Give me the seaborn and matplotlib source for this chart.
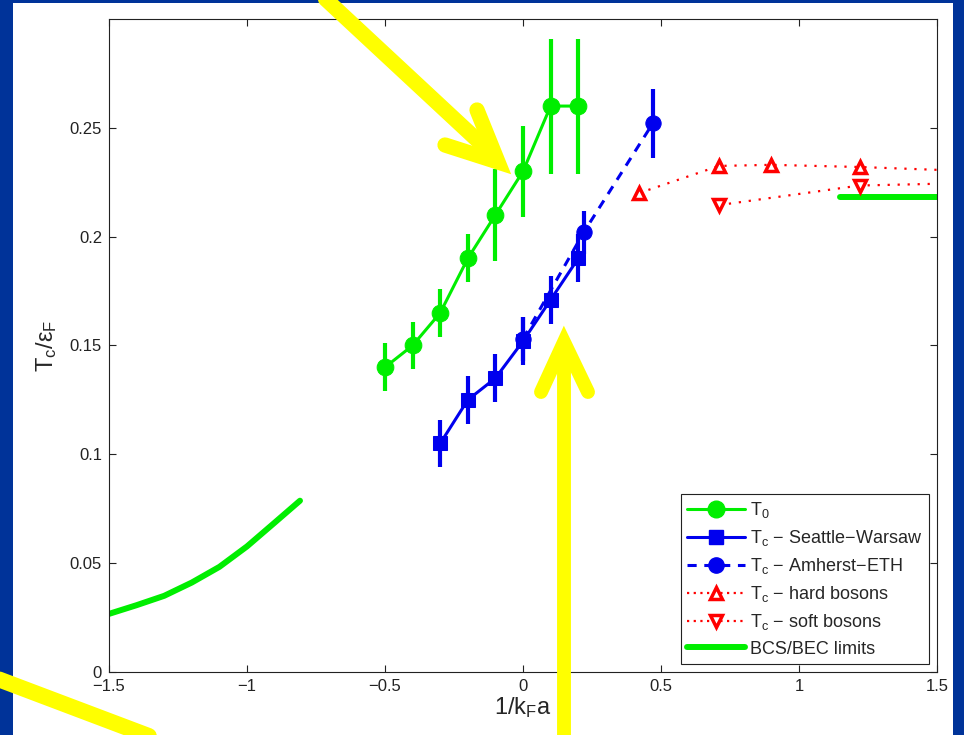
import pandas as pd
import seaborn as sns
import matplotlib.pyplot as plt
from matplotlib.lines import Line2D
from matplotlib.patches import Rectangle

# T0 (green circles)
t0_x = [-0.5, -0.4, -0.3, -0.2, -0.1, 0.0, 0.1, 0.2]
t0_y = [0.140, 0.150, 0.165, 0.190, 0.210, 0.230, 0.260, 0.260]
t0_err = [0.011, 0.011, 0.011, 0.011, 0.021, 0.021, 0.031, 0.031]

# Tc Seattle-Warsaw (blue squares)
sw_x = [-0.3, -0.2, -0.1, 0.0, 0.1, 0.2]
sw_y = [0.105, 0.125, 0.135, 0.152, 0.171, 0.190]
sw_err = [0.011, 0.011, 0.011, 0.011, 0.011, 0.011]

# Tc Amherst-ETH (blue circles, dashed)
am_x = [0.0, 0.22, 0.47]
am_y = [0.153, 0.202, 0.252]
am_err = [0.010, 0.010, 0.016]

# Tc hard / soft bosons (red triangles, dotted)
hb_x = [0.42, 0.71, 0.90, 1.22, 1.50]
hb_y = [0.220, 0.2325, 0.233, 0.232, 0.2307]
sb_x = [0.71, 1.22, 1.50]
sb_y = [0.2145, 0.2235, 0.2243]

# BCS / BEC limits (green thick)
bcs_x = [-1.5, -1.4, -1.3, -1.2, -1.1, -1.0, -0.9, -0.808]
bcs_y = [0.0267, 0.0307, 0.0350, 0.0411, 0.0483, 0.0577, 0.0686, 0.0787]
bec_x = [1.15, 1.5]
bec_y = [0.218, 0.218]

labels = [r'$\mathregular{T_0}$',
          r'$\mathregular{T_c}$ − Seattle−Warsaw',
          r'$\mathregular{T_c}$ − Amherst−ETH',
          r'$\mathregular{T_c}$ − hard bosons',
          r'$\mathregular{T_c}$ − soft bosons',
          'BCS/BEC limits']

sns.set_style('ticks')
plt.rcParams['font.family'] = ['Liberation Sans', 'DejaVu Sans']
plt.rcParams['mathtext.fontset'] = 'custom'
plt.rcParams['mathtext.rm'] = 'Liberation Sans'
plt.rcParams['mathtext.it'] = 'Liberation Sans'
plt.rcParams['mathtext.default'] = 'regular'
plt.rcParams['xtick.direction'] = 'in'
plt.rcParams['ytick.direction'] = 'in'

GREEN = '#00ee00'
BLUE = '#0000ee'
RED = '#ff0000'
YELLOW = '#ffff00'
W, H = 964, 735

fig = plt.figure(figsize=(9.64, 7.35), dpi=100)
fig.patch.set_facecolor('#003399')
fig.add_artist(Rectangle((13 / W, 0), 940 / W, 732 / H, transform=fig.transFigure,
                         facecolor='white', edgecolor='none', zorder=-5))
ax = fig.add_axes([109 / W, 63 / H, 828 / W, 653 / H])

# lines
sns.lineplot(x=bcs_x, y=bcs_y, color=GREEN, linewidth=4.3, ax=ax, sort=False)
sns.lineplot(x=bec_x, y=bec_y, color=GREEN, linewidth=4.3, ax=ax, sort=False)
sns.lineplot(x=hb_x, y=hb_y, color=RED, linewidth=1.6, linestyle=(0, (1, 3.5)),
             marker='^', markersize=9, markerfacecolor='white', markeredgecolor=RED,
             markeredgewidth=2.5, markevery=[0, 1, 2, 3], ax=ax, sort=False)
sns.lineplot(x=sb_x, y=sb_y, color=RED, linewidth=1.6, linestyle=(0, (1, 3.5)),
             marker='v', markersize=9, markerfacecolor='white', markeredgecolor=RED,
             markeredgewidth=2.5, markevery=[0, 1], ax=ax, sort=False)
sns.lineplot(x=am_x, y=am_y, color=BLUE, linewidth=2.2, linestyle=(0, (3, 2.5)),
             marker='o', markersize=11, markeredgecolor=BLUE, ax=ax, sort=False)
sns.lineplot(x=sw_x, y=sw_y, color=BLUE, linewidth=2.2,
             marker='s', markersize=10, markeredgecolor=BLUE, ax=ax, sort=False)
sns.lineplot(x=t0_x, y=t0_y, color=GREEN, linewidth=2.2,
             marker='o', markersize=12, markeredgecolor=GREEN, ax=ax, sort=False)

# error bars
ax.errorbar(am_x, am_y, yerr=am_err, fmt='none', ecolor=BLUE, elinewidth=3, capsize=0)
ax.errorbar(sw_x, sw_y, yerr=sw_err, fmt='none', ecolor=BLUE, elinewidth=3, capsize=0)
ax.errorbar(t0_x, t0_y, yerr=t0_err, fmt='none', ecolor=GREEN, elinewidth=3, capsize=0)

ax.set_xlim(-1.5, 1.5)
ax.set_ylim(0, 0.3)
ax.set_xticks([-1.5, -1, -0.5, 0, 0.5, 1, 1.5])
ax.set_xticklabels(['−1.5', '−1', '−0.5', '0', '0.5', '1', '1.5'])
ax.set_yticks([0, 0.05, 0.1, 0.15, 0.2, 0.25])
ax.set_yticklabels(['0', '0.05', '0.1', '0.15', '0.2', '0.25'])
ax.tick_params(labelsize=12, length=5, width=0.8, colors='#222222',
               top=True, right=True, pad=5)
for sp in ax.spines.values():
    sp.set_visible(True)
    sp.set_color('#222222')
    sp.set_linewidth(0.8)
ax.set_xlabel(r'$\mathregular{1/k_Fa}$', fontsize=17, labelpad=1)
ax.set_ylabel(r'$\mathregular{T_c/ε_F}$', fontsize=17, labelpad=8)

handles = [
    Line2D([], [], color=GREEN, lw=2.2, marker='o', ms=12, mec=GREEN),
    Line2D([], [], color=BLUE, lw=2.2, marker='s', ms=10, mec=BLUE),
    Line2D([], [], color=BLUE, lw=2.2, ls=(0, (3, 2.5)), marker='o', ms=11, mec=BLUE),
    Line2D([], [], color=RED, lw=1.6, ls=(0, (1, 2)), marker='^', ms=9, mfc='white',
           mec=RED, mew=2.5),
    Line2D([], [], color=RED, lw=1.6, ls=(0, (1, 2)), marker='v', ms=9, mfc='white',
           mec=RED, mew=2.5),
    Line2D([], [], color=GREEN, lw=4.3),
]
leg = ax.legend(handles, labels, loc='lower right', fontsize=13, handlelength=3.2,
                labelspacing=0.45, borderaxespad=0.45, fancybox=False, framealpha=1,
                edgecolor='#222222', handletextpad=0.3, borderpad=0.35)
leg.get_frame().set_linewidth(0.8)


# yellow arrows overlaid on the slide (figure pixel coordinates)
def px(pts):
    return [p[0] / W for p in pts], [1 - p[1] / H for p in pts]


def yline(pts, lw=11):
    xs, ys = px(pts)
    fig.add_artist(Line2D(xs, ys, color=YELLOW, lw=lw, transform=fig.transFigure,
                          solid_capstyle='round', solid_joinstyle='miter', zorder=10))


yline([(318, -8), (490, 152)])
yline([(477, 110), (498, 162), (445, 145)])
yline([(564, 760), (564, 350)], lw=10)
yline([(541, 392), (564, 342), (588, 392)], lw=10)
yline([(-10, 676), (170, 744)], lw=11.5)

fig.savefig('out.png', dpi=100, facecolor=fig.get_facecolor())
